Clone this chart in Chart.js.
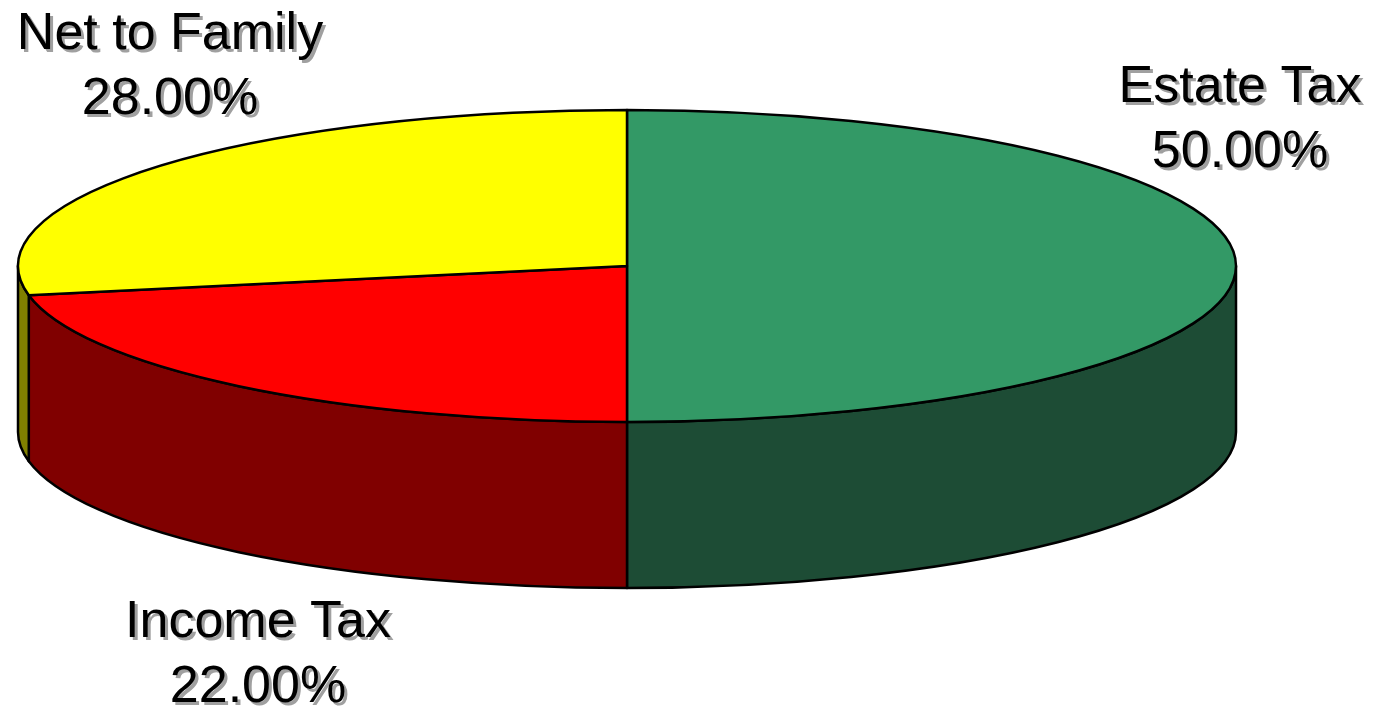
<!DOCTYPE html>
<html>
<head>
<meta charset="utf-8">
<title>Estate distribution</title>
<script src="https://cdn.jsdelivr.net/npm/chart.js@4.4.1/dist/chart.umd.min.js"></script>
<style>
  html, body { margin: 0; padding: 0; background: #ffffff; }
  #chart { display: block; }
</style>
</head>
<body>
<canvas id="chart" width="1382" height="707"></canvas>
<script>
// slices go clockwise from 12 o'clock
const labels = ["Estate Tax", "Income Tax", "Net to Family"];
const values = [50, 22, 28];
const topColors = ["#339966", "#ff0000", "#ffff00"];
const sideColors = ["#1d4c35", "#800000", "#808000"];

// tilted disc geometry
const CX = 627, CY = 266, RX = 609, RY = 156, DEPTH = 166;

// label line anchors (centre x, baseline of first line)
const labelAnchors = [[1240, 102], [258, 637], [170, 49]];
const LINE_GAP = 65;

const pie3d = {
  id: "pie3d",
  beforeDatasetsDraw(chart) {
    const ctx = chart.ctx;
    const arcs = chart.getDatasetMeta(0).data;
    ctx.save();
    ctx.lineWidth = 2.5;
    ctx.lineJoin = "round";
    ctx.strokeStyle = "#000000";

    // outer walls, only the front half (0..PI) can be seen
    arcs.forEach((arc, i) => {
      const a0 = Math.max(arc.startAngle, 0);
      const a1 = Math.min(arc.endAngle, Math.PI);
      if (a1 <= a0) return;
      ctx.beginPath();
      ctx.ellipse(CX, CY, RX, RY, 0, a0, a1, false);
      ctx.lineTo(CX + RX * Math.cos(a1), CY + RY * Math.sin(a1) + DEPTH);
      ctx.ellipse(CX, CY + DEPTH, RX, RY, 0, a1, a0, true);
      ctx.closePath();
      ctx.fillStyle = sideColors[i];
      ctx.fill();
      ctx.stroke();
    });

    // top face
    arcs.forEach((arc, i) => {
      ctx.beginPath();
      ctx.moveTo(CX, CY);
      ctx.ellipse(CX, CY, RX, RY, 0, arc.startAngle, arc.endAngle, false);
      ctx.closePath();
      ctx.fillStyle = topColors[i];
      ctx.fill();
      ctx.stroke();
    });
    ctx.restore();
    return false;
  },
  afterDraw(chart) {
    const ctx = chart.ctx;
    ctx.save();
    ctx.font = '52px "Liberation Sans", Arial, sans-serif';
    ctx.textAlign = "center";
    ctx.textBaseline = "alphabetic";
    labels.forEach((name, i) => {
      const [x, y] = labelAnchors[i];
      const lines = [name, values[i].toFixed(2) + "%"];
      lines.forEach((t, k) => {
        const ly = y + k * LINE_GAP;
        ctx.fillStyle = "#a0a0a0";
        ctx.fillText(t, x + 3, ly + 3);
        ctx.fillStyle = "#000000";
        ctx.fillText(t, x, ly);
      });
    });
    ctx.restore();
  }
};

new Chart(document.getElementById("chart"), {
  type: "pie",
  data: {
    labels: labels,
    datasets: [{
      data: values,
      backgroundColor: topColors,
      borderColor: "#000000",
      borderWidth: 2
    }]
  },
  options: {
    responsive: false,
    animation: false,
    plugins: {
      legend: { display: false },
      tooltip: { enabled: false }
    }
  },
  plugins: [pie3d]
});
</script>
</body>
</html>
